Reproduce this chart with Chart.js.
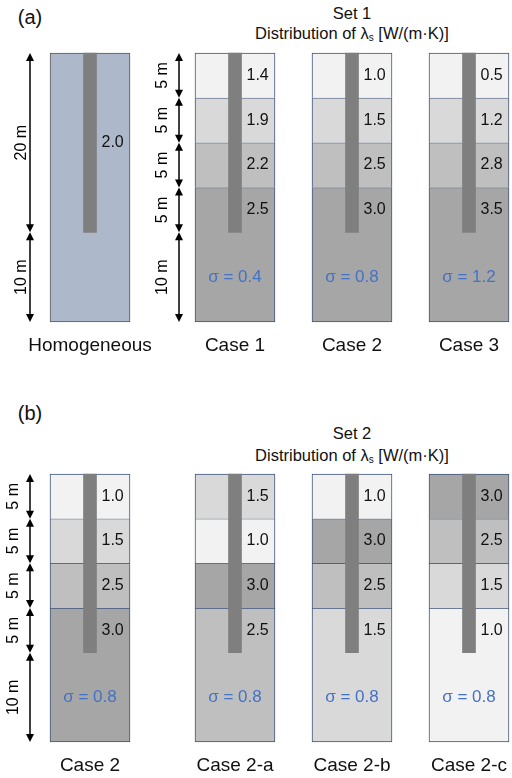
<!DOCTYPE html>
<html>
<head>
<meta charset="utf-8">
<script src="https://cdn.jsdelivr.net/npm/chart.js@4.4.1/dist/chart.umd.min.js"></script>
<style>
  html, body { margin: 0; padding: 0; background: #fff; overflow: hidden; }
  #page { position: relative; width: 512px; height: 778px; font-family: "Liberation Sans", Arial, sans-serif; color: #111; }
  canvas { position: absolute; }
  .txt { position: absolute; transform: translate(-50%, -50%); white-space: nowrap; }
  .panel { font-size: 20px; }
  .ttl { font-size: 16.5px; }
  .ttl sub { font-size: 10px; vertical-align: -2px; }
</style>
</head>
<body>
<div id="page">
  <div class="txt panel" style="left:30px; top:17px;">(a)</div>
  <div class="txt ttl" style="left:352px; top:13px;">Set 1</div>
  <div class="txt ttl" style="left:352px; top:33px;">Distribution of λ<sub>s</sub> [W/(m·K)]</div>
  <div class="txt panel" style="left:30px; top:413px;">(b)</div>
  <div class="txt ttl" style="left:352px; top:433px;">Set 2</div>
  <div class="txt ttl" style="left:352px; top:455px;">Distribution of λ<sub>s</sub> [W/(m·K)]</div>
</div>
<script>
// layer boundaries (m) and pile length
const layerDepths = [0, 5, 10, 15, 30];
const pileDepth = 20;

// Set 1
const homoName = 'Homogeneous';
const homoValue = 2.0;
const set1Cases = ['Case 1', 'Case 2', 'Case 3'];
const set1Values = [
  [1.4, 1.9, 2.2, 2.5],
  [1.0, 1.5, 2.5, 3.0],
  [0.5, 1.2, 2.8, 3.5]
];
const set1Sigma = [0.4, 0.8, 1.2];

// Set 2
const set2Cases = ['Case 2', 'Case 2-a', 'Case 2-b', 'Case 2-c'];
const set2Values = [
  [1.0, 1.5, 2.5, 3.0],
  [1.5, 1.0, 3.0, 2.5],
  [1.0, 3.0, 2.5, 1.5],
  [3.0, 2.5, 1.5, 1.0]
];
const set2Sigma = [0.8, 0.8, 0.8, 0.8];

// dimension lines
const dimHomo = [0, 20, 30];
const dimLayers = [0, 5, 10, 15, 20, 30];

// layout / style
const colLeft = [50, 195, 312, 429];
const colWidth = 80;
const panelTop = [53, 474];
const panelHeight = [269, 268];
const grays = ['#f2f2f2', '#d9d9d9', '#bfbfbf', '#a6a6a6'];
const FONT = '"Liberation Sans", Arial, sans-serif';
const PAD = { left: 50, right: 30, top: 6, bottom: 44 };

function rankColors(vals) {
  const sorted = vals.slice().sort((a, b) => a - b);
  return vals.map(v => grays[sorted.indexOf(v)]);
}

function drawArrow(ctx, x, y1, y2) {
  const h = 8, w = 4;
  ctx.beginPath();
  ctx.moveTo(x, y1 + h - 1);
  ctx.lineTo(x, y2 - h + 1);
  ctx.stroke();
  ctx.beginPath();
  ctx.moveTo(x, y1); ctx.lineTo(x - w, y1 + h); ctx.lineTo(x + w, y1 + h); ctx.closePath();
  ctx.fill();
  ctx.beginPath();
  ctx.moveTo(x, y2); ctx.lineTo(x - w, y2 - h); ctx.lineTo(x + w, y2 - h); ctx.closePath();
  ctx.fill();
}

const columnText = {
  id: 'columnText',
  afterDatasetsDraw(chart) {
    const o = chart.options.plugins.columnText;
    const ctx = chart.ctx;
    const area = chart.chartArea;
    const y = chart.scales.y;
    const pileMeta = chart.getDatasetMeta(0);
    const pileRight = pileMeta.data[0].x + pileMeta.data[0].width / 2;
    const cx = (area.left + area.right) / 2;
    ctx.save();
    // layer values
    ctx.font = '16px ' + FONT;
    ctx.fillStyle = '#111';
    ctx.textAlign = 'left';
    ctx.textBaseline = 'middle';
    o.values.forEach((v, i) => {
      const d0 = o.depths[i];
      const d1 = Math.min(o.depths[i + 1], pileDepth);
      ctx.fillText(v.toFixed(1), pileRight + 5, y.getPixelForValue((d0 + d1) / 2));
    });
    // sigma
    if (o.sigma != null) {
      ctx.font = '17px ' + FONT;
      ctx.fillStyle = '#4472c4';
      ctx.textAlign = 'center';
      ctx.fillText('\u03c3 = ' + o.sigma.toFixed(1), cx, y.getPixelForValue((pileDepth + 30) / 2));
    }
    // case name
    ctx.fillStyle = '#111';
    ctx.font = '19px ' + FONT;
    ctx.textAlign = 'center';
    ctx.fillText(chart.data.labels[0], cx, area.bottom + 24);
    // dimension arrows
    if (o.dims) {
      const ax = area.left - o.dimOffset;
      ctx.strokeStyle = '#000';
      ctx.fillStyle = '#000';
      ctx.lineWidth = 1.5;
      for (let i = 0; i < o.dims.length - 1; i++) {
        const p0 = y.getPixelForValue(o.dims[i]);
        const p1 = y.getPixelForValue(o.dims[i + 1]);
        drawArrow(ctx, ax, p0, p1);
        ctx.save();
        ctx.translate(ax - o.dimLabelOffset, (p0 + p1) / 2);
        ctx.rotate(-Math.PI / 2);
        ctx.font = '16px ' + FONT;
        ctx.textAlign = 'center';
        ctx.textBaseline = 'middle';
        ctx.fillText((o.dims[i + 1] - o.dims[i]) + ' m', 0, 0);
        ctx.restore();
      }
    }
    ctx.restore();
  }
};

function makeColumn(panel, col, name, values, depths, colors, border, sigma, dims, dimOffset, dimLabelOffset) {
  const canvas = document.createElement('canvas');
  const w = colWidth + PAD.left + PAD.right;
  const h = panelHeight[panel] + PAD.top + PAD.bottom;
  canvas.width = w;
  canvas.height = h;
  canvas.style.left = (colLeft[col] - PAD.left) + 'px';
  canvas.style.top = (panelTop[panel] - PAD.top) + 'px';
  document.getElementById('page').appendChild(canvas);

  const datasets = [{
    data: [[0, pileDepth]],
    backgroundColor: '#7f7f7f',
    borderWidth: 0,
    barThickness: 13
  }];
  values.forEach((v, i) => {
    const last = i === values.length - 1;
    datasets.push({
      data: [[depths[i], depths[i + 1]]],
      backgroundColor: colors[i],
      borderColor: border,
      borderWidth: { left: 1, right: 1, top: 1, bottom: last ? 1 : 0 },
      borderSkipped: false,
      barPercentage: 1,
      categoryPercentage: 1
    });
  });

  new Chart(canvas, {
    type: 'bar',
    data: { labels: [name], datasets: datasets },
    options: {
      responsive: false,
      animation: false,
      devicePixelRatio: 1,
      layout: { padding: PAD },
      datasets: { bar: { grouped: false, clip: 4 } },
      plugins: {
        legend: { display: false },
        tooltip: { enabled: false },
        columnText: { values: values, depths: depths, sigma: sigma, dims: dims, dimOffset: dimOffset, dimLabelOffset: dimLabelOffset }
      },
      scales: {
        x: { display: false },
        y: { display: false, min: 0, max: 30, reverse: true }
      }
    },
    plugins: [columnText]
  });
}

// panel (a)
makeColumn(0, 0, homoName, [homoValue], [0, 30], ['#adb9ca'], '#595959', null, dimHomo, 20, 8);
set1Cases.forEach((name, i) => {
  makeColumn(0, i + 1, name, set1Values[i], layerDepths, rankColors(set1Values[i]), '#3f5378',
    set1Sigma[i], i === 0 ? dimLayers : null, 16, 16);
});

// panel (b)
set2Cases.forEach((name, i) => {
  makeColumn(1, i, name, set2Values[i], layerDepths, rankColors(set2Values[i]), '#3f5378',
    set2Sigma[i], i === 0 ? dimLayers : null, 20, 16);
});
</script>
</body>
</html>
